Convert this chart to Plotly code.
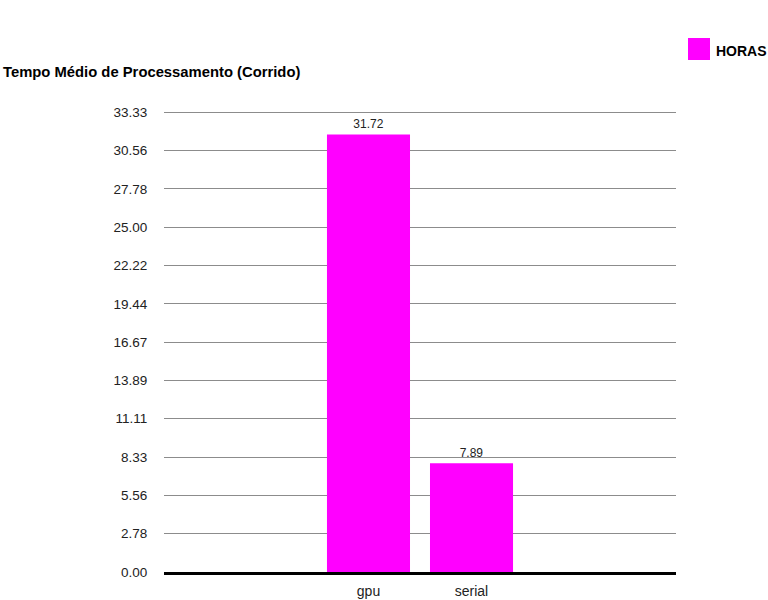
import plotly.graph_objects as go

title = "Tempo Médio de Processamento (Corrido)"
series_name = "HORAS"
categories = ["gpu", "serial"]
values = [31.72, 7.89]
y_tick_values = [0.00, 2.78, 5.56, 8.33, 11.11, 13.89, 16.67, 19.44, 22.22, 25.00, 27.78, 30.56, 33.33]
y_tick_labels = ["0.00", "2.78", "5.56", "8.33", "11.11", "13.89", "16.67", "19.44", "22.22", "25.00", "27.78", "30.56", "33.33"]

BAR = "#ff00ff"
FONT = "Liberation Sans, Arial, sans-serif"

W, H = 768, 600
L, R, T, B = 164, 92, 111, 28
PW, PH = W - L - R, H - T - B


def px(x):
    return (x - L) / PW


def py(y):
    return (H - B - y) / PH


fig = go.Figure()
fig.add_trace(go.Bar(
    x=categories, y=values, name=series_name,
    marker=dict(color=BAR, line=dict(width=0)),
    text=[f"{v:.2f}" for v in values], textposition="outside",
    textfont=dict(size=12, color="#222222", family=FONT),
    cliponaxis=False, showlegend=False,
))

fig.update_layout(
    width=W, height=H,
    margin=dict(l=L, r=R, t=T, b=B, pad=0, autoexpand=False),
    paper_bgcolor="white", plot_bgcolor="white",
    bargap=0.194,
    font=dict(family=FONT, size=12, color="#222222"),
    xaxis=dict(
        type="category", range=[-1.985, 2.985], automargin=False,
        showgrid=False, zeroline=False,
        showline=True, linecolor="black", linewidth=3,
        ticks="outside", ticklen=4, tickcolor="rgba(0,0,0,0)",
        tickfont=dict(size=14, color="#222222"),
    ),
    yaxis=dict(
        range=[0, 33.42], automargin=False,
        tickvals=y_tick_values, ticktext=y_tick_labels,
        showgrid=True, gridcolor="#8c8c8c", gridwidth=1,
        zeroline=False, showline=False,
        ticks="outside", ticklen=13, tickcolor="rgba(0,0,0,0)",
        tickfont=dict(size=13.5, color="#222222"),
    ),
    shapes=[dict(type="rect", xref="paper", yref="paper",
                 x0=px(688), x1=px(710), y0=py(60), y1=py(38),
                 fillcolor=BAR, line=dict(width=0))],
    annotations=[
        dict(text=f"<b>{title}</b>", xref="paper", yref="paper",
             x=px(1), y=py(72), xanchor="left", yanchor="middle",
             showarrow=False, font=dict(size=14.8, color="black", family=FONT)),
        dict(text=f"<b>{series_name}</b>", xref="paper", yref="paper",
             x=px(714), y=py(51), xanchor="left", yanchor="middle",
             showarrow=False, font=dict(size=14, color="black", family=FONT)),
    ],
)

fig.write_html("out.html", config={"displayModeBar": False},
               post_script="document.body.style.margin='0';")
